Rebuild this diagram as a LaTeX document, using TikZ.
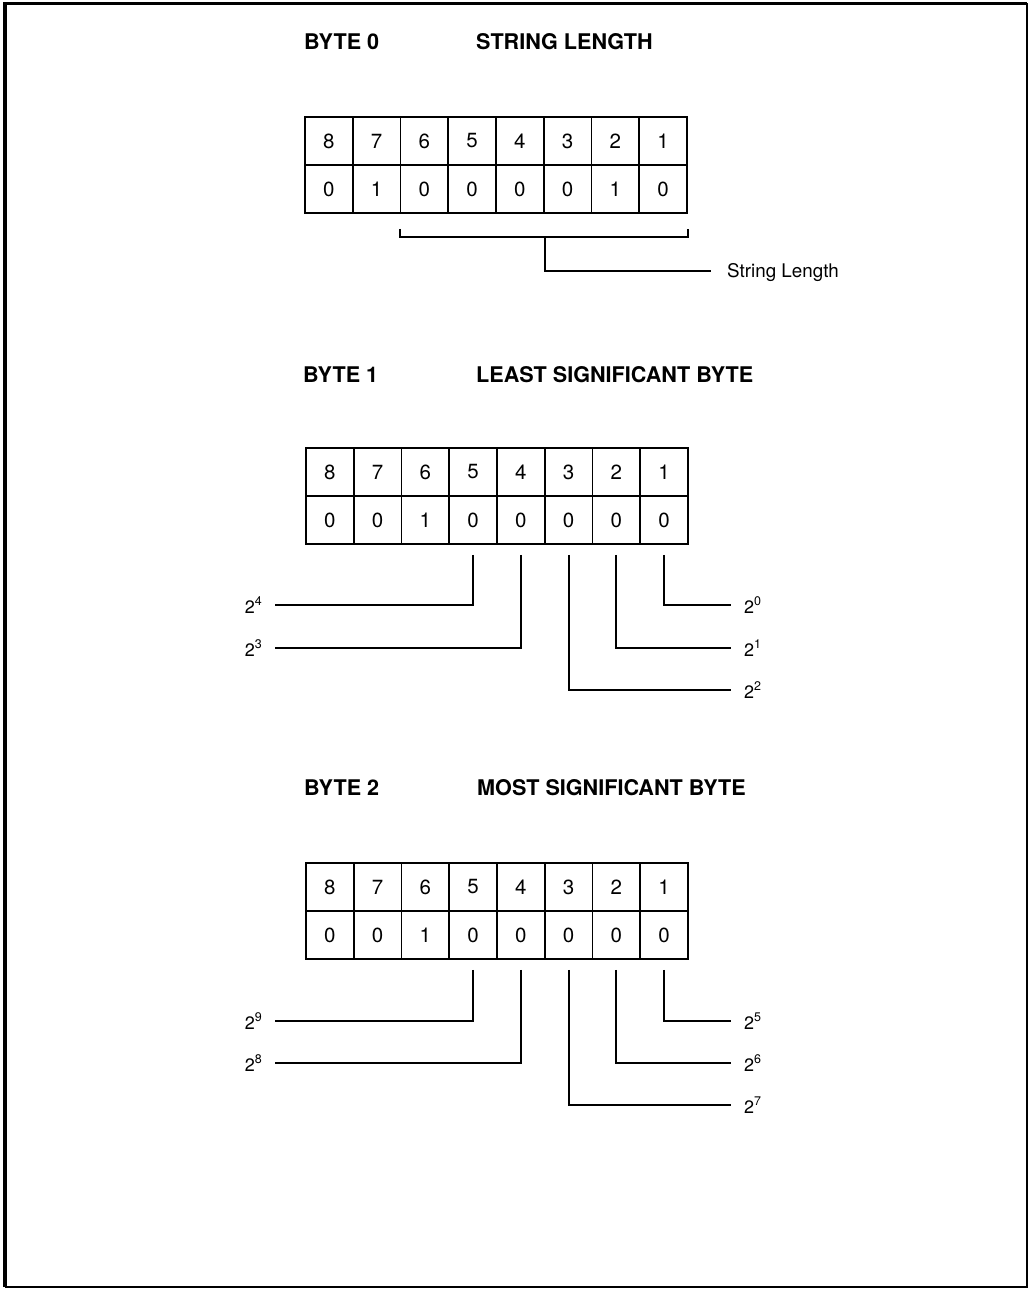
\documentclass[tikz,border=0pt]{standalone}
\usepackage{fontspec}
\setmainfont{TeX Gyre Heros}
\usetikzlibrary{calc}
\newcommand{\pw}[1]{2\raisebox{0.42em}{\fontsize{12.5}{12.5}\selectfont #1}}
\begin{document}
\begin{tikzpicture}[x=1pt,y=-1pt]
\tikzset{
  cell/.style={draw, line width=1.6pt, minimum width=47.75pt, minimum height=48pt, inner sep=0pt, font=\fontsize{20.5}{24}\selectfont},
  head/.style={anchor=base west, inner sep=0pt, font=\fontsize{21.6}{25}\selectfont\bfseries},
  wire/.style={line width=1.8pt},
  pl/.style={inner xsep=13pt, inner ysep=0pt, font=\fontsize{18}{21}\selectfont},
  frameline/.style={line width=3.5pt},
  thinframe/.style={line width=2pt}
}
\useasboundingbox (0,0) rectangle (1029,1289);
% frame
\coordinate (fTL) at (5,3.5);
\coordinate (fTR) at (1027,3.5);
\coordinate (fBL) at (5,1287);
\coordinate (fBR) at (1027,1287);
\draw[frameline] (fBL) -- (fTL) -- (fTR);
\draw[thinframe] (fTR) -- (fBR) -- (fBL);

% headings
\node[head] (h0a) at (304,49.5) {BYTE 0};
\node[head] (h0b) at (476,49.5) {STRING LENGTH};
\node[head] (h1a) at (303,382.5) {BYTE 1};
\node[head] (h1b) at (476,382.5) {LEAST SIGNIFICANT BYTE};
\node[head] (h2a) at (304,795.5) {BYTE 2};
\node[head] (h2b) at (477,795.5) {MOST SIGNIFICANT BYTE};

% table 0
\foreach \i/\b/\v in {1/8/0,2/7/1,3/6/0,4/5/0,5/4/0,6/3/0,7/2/1,8/1/0}{
  \node[cell] (t0b\b) at ({305+47.75*(\i-0.5)},141) {\b};
  \node[cell] (t0v\b) at ({305+47.75*(\i-0.5)},189) {\v};
}
% table 1
\foreach \i/\b/\v in {1/8/0,2/7/0,3/6/1,4/5/0,5/4/0,6/3/0,7/2/0,8/1/0}{
  \node[cell] (t1b\b) at ({306+47.75*(\i-0.5)},472) {\b};
  \node[cell] (t1v\b) at ({306+47.75*(\i-0.5)},520) {\v};
}
% table 2
\foreach \i/\b/\v in {1/8/0,2/7/0,3/6/1,4/5/0,5/4/0,6/3/0,7/2/0,8/1/0}{
  \node[cell] (t2b\b) at ({306+47.75*(\i-0.5)},887) {\b};
  \node[cell] (t2v\b) at ({306+47.75*(\i-0.5)},935) {\v};
}

% bracket for string length
\node[anchor=west, inner xsep=16pt, inner ysep=0pt, font=\fontsize{18.8}{22}\selectfont, text height=13pt, text depth=0pt] (sl) at (711,271) {String Length};
\coordinate (bl) at ($(t0v6.south west)+(0,15)$);
\coordinate (br) at ($(t0v1.south east)+(0,15)$);
\draw[wire] (bl) -- ($(bl)+(0,8)$) -- ($(br)+(0,8)$) -- (br);
\draw[wire] ($(bl)!0.5!(br)+(1,8)$) |- (sl.west);

% labels byte 1
\node[pl, anchor=east] (p4) at (275,605) {\pw{4}};
\node[pl, anchor=east] (p3) at (275,648) {\pw{3}};
\node[pl, anchor=west] (p0) at (731,605) {\pw{0}};
\node[pl, anchor=west] (p1) at (731,648) {\pw{1}};
\node[pl, anchor=west] (p2) at (731,690) {\pw{2}};
\draw[wire] ($(t1v5.south)+(0,10)$) |- (p4);
\draw[wire] ($(t1v4.south)+(0,10)$) |- (p3);
\draw[wire] ($(t1v3.south)+(0,10)$) |- (p2);
\draw[wire] ($(t1v2.south)+(0,10)$) |- (p1);
\draw[wire] ($(t1v1.south)+(0,10)$) |- (p0);

% labels byte 2
\node[pl, anchor=east] (p9) at (275,1021) {\pw{9}};
\node[pl, anchor=east] (p8) at (275,1063) {\pw{8}};
\node[pl, anchor=west] (p5) at (731,1021) {\pw{5}};
\node[pl, anchor=west] (p6) at (731,1063) {\pw{6}};
\node[pl, anchor=west] (p7) at (731,1105) {\pw{7}};
\draw[wire] ($(t2v5.south)+(0,10)$) |- (p9);
\draw[wire] ($(t2v4.south)+(0,10)$) |- (p8);
\draw[wire] ($(t2v3.south)+(0,10)$) |- (p7);
\draw[wire] ($(t2v2.south)+(0,10)$) |- (p6);
\draw[wire] ($(t2v1.south)+(0,10)$) |- (p5);
\end{tikzpicture}
\end{document}
